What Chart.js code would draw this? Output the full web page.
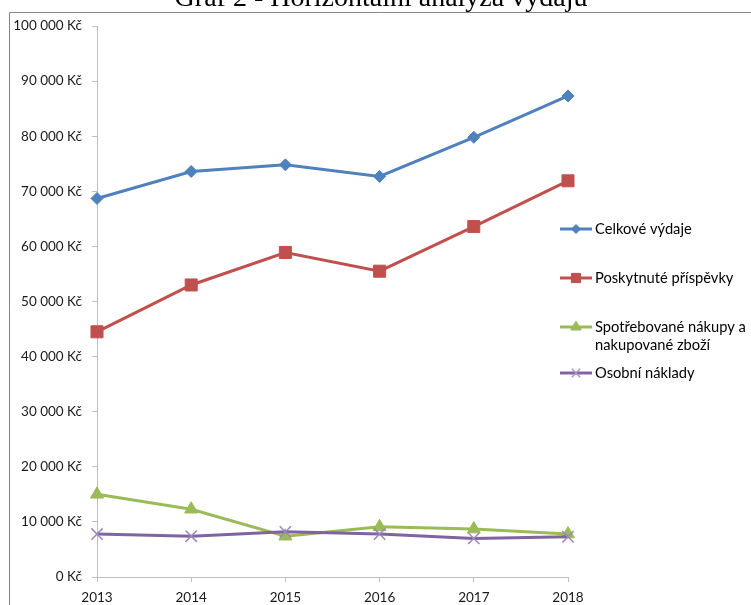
<!DOCTYPE html>
<html><head><meta charset="utf-8">
<script src="https://cdn.jsdelivr.net/npm/chart.js@4"></script>
<style>html,body{margin:0;padding:0;background:#fff;overflow:hidden}canvas{display:block}</style>
</head><body>
<canvas id="c" width="751" height="605"></canvas>
<script>
const chartTitle = 'Graf 2 - Horizontální analýza výdajů';
const years = ['2013', '2014', '2015', '2016', '2017', '2018'];
const celkoveVydaje = [68700, 73600, 74800, 72700, 79800, 87300];
const poskytnutePrispevky = [44500, 53000, 58900, 55500, 63600, 71900];
const spotrebovaneNakupy = [15000, 12300, 7400, 9100, 8700, 7800];
const osobniNaklady = [7800, 7400, 8200, 7800, 7000, 7300];
const seriesNames = ['Celkové výdaje', 'Poskytnuté příspěvky', ['Spotřebované nákupy a', 'nakupované zboží'], 'Osobní náklady'];
const yMin = 0, yMax = 100000, yStep = 10000;

const FONT = "Lato, 'Liberation Sans', sans-serif";
const colors = ['#4f81bd', '#c0504d', '#9bbb59', '#8064a2'];
const markers = [
  {style: 'rectRot', r: 6, lr: 4.5, bw: 1},
  {style: 'rect', r: 8.5, lr: 6.5, bw: 1},
  {style: 'triangle', r: 7.5, lr: 6, bw: 1},
  {style: 'crossRot', r: 8, lr: 6, bw: 1.5}
];
const seriesData = [celkoveVydaje, poskytnutePrispevky, spotrebovaneNakupy, osobniNaklady];

function fmtKc(v) {
  return String(v).replace(/\B(?=(\d{3})+(?!\d))/g, '\u00a0') + '\u00a0Kč';
}

const frameTitlePlugin = {
  id: 'frameTitle',
  beforeDraw(chart) {
    const ctx = chart.ctx;
    ctx.save();
    ctx.fillStyle = '#fff';
    ctx.fillRect(0, 0, chart.width, chart.height);
    ctx.strokeStyle = '#868686';
    ctx.lineWidth = 1;
    ctx.beginPath();
    ctx.moveTo(9.5, chart.height);
    ctx.lineTo(9.5, 12.5);
    ctx.lineTo(chart.width, 12.5);
    ctx.stroke();
    ctx.fillStyle = '#000';
    ctx.font = "28px 'Liberation Serif', 'Times New Roman', serif";
    ctx.textAlign = 'center';
    ctx.textBaseline = 'alphabetic';
    ctx.fillText(chartTitle, 381, 6);
    ctx.restore();
  }
};

const legendPlugin = {
  id: 'customLegend',
  afterDraw(chart) {
    const ctx = chart.ctx;
    const x0 = chart.chartArea.right - 8;
    const ys = [229, 278, 327, 373];
    ctx.save();
    ctx.font = '14.7px ' + FONT;
    ctx.textBaseline = 'middle';
    ctx.textAlign = 'left';
    seriesNames.forEach((name, i) => {
      const y = ys[i];
      ctx.strokeStyle = colors[i];
      ctx.lineWidth = 3;
      ctx.beginPath();
      ctx.moveTo(x0, y);
      ctx.lineTo(x0 + 32, y);
      ctx.stroke();
      const m = markers[i];
      const opts = {pointStyle: m.style, radius: m.lr, borderWidth: m.bw, rotation: 0};
      ctx.fillStyle = colors[i];
      ctx.strokeStyle = i === 3 ? '#a797c4' : colors[i];
      ctx.lineWidth = m.bw;
      Chart.helpers.drawPoint(ctx, opts, x0 + 16, y);
      ctx.fillStyle = '#000';
      const lines = Array.isArray(name) ? name : [name];
      lines.forEach((t, j) => ctx.fillText(t, x0 + 35, y + j * 18));
    });
    ctx.restore();
  }
};

const datasets = seriesData.map((d, i) => ({
  label: Array.isArray(seriesNames[i]) ? seriesNames[i].join(' ') : seriesNames[i],
  data: d,
  borderColor: colors[i],
  backgroundColor: colors[i],
  borderWidth: 3,
  pointStyle: markers[i].style,
  pointRadius: markers[i].r,
  pointHoverRadius: markers[i].r,
  pointBackgroundColor: colors[i],
  pointBorderColor: i === 3 ? '#9a88bf' : colors[i],
  pointBorderWidth: markers[i].bw,
  tension: 0,
  fill: false,
  order: 3 - i
}));

new Chart(document.getElementById('c'), {
  type: 'line',
  data: {labels: years, datasets},
  options: {
    responsive: false,
    animation: false,
    devicePixelRatio: 1,
    layout: {padding: {left: 0, right: 183, top: 26, bottom: 0}},
    plugins: {legend: {display: false}, title: {display: false}, tooltip: {enabled: false}},
    scales: {
      x: {
        type: 'category',
        offset: false,
        grid: {display: true, drawOnChartArea: false, drawTicks: true, tickLength: 5, color: '#bfbfbf', lineWidth: 1},
        border: {display: true, color: '#bfbfbf', width: 1},
        ticks: {color: '#1a1a1a', font: {family: FONT, size: 13.5}, padding: 8, maxRotation: 0, autoSkip: false},
        afterFit(s) { s.height = 28; }
      },
      y: {
        min: yMin, max: yMax,
        grid: {display: true, drawOnChartArea: false, drawTicks: true, tickLength: 5, color: '#bfbfbf', lineWidth: 1},
        border: {display: true, color: '#bfbfbf', width: 1},
        ticks: {stepSize: yStep, color: '#1a1a1a', font: {family: FONT, size: 13.5}, padding: 10, callback: v => fmtKc(v)},
        afterFit(s) { s.width = 97; }
      }
    }
  },
  plugins: [frameTitlePlugin, legendPlugin]
});
</script>
</body></html>
